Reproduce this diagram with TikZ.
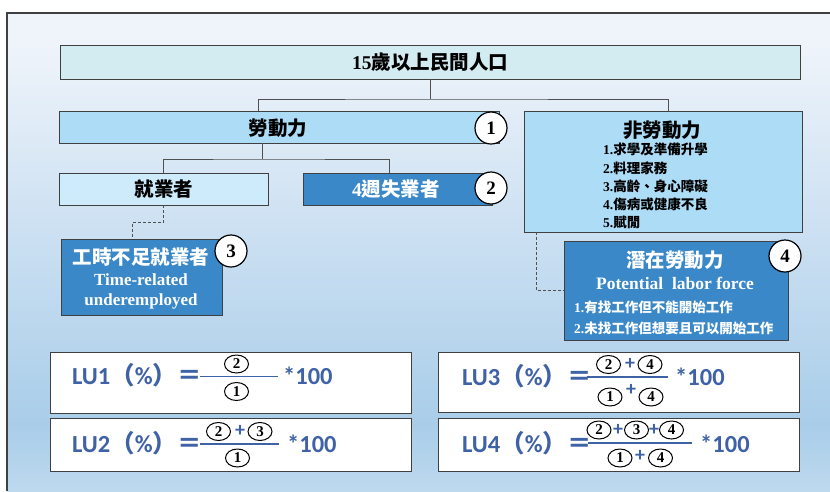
\documentclass[tikz,border=0pt]{standalone}
\usepackage{fontspec}
\setmainfont{Liberation Serif}
\newfontfamily\cjk{Noto Sans CJK TC}
\newfontfamily\calfont{Carlito}
\usetikzlibrary{shapes.geometric}
\definecolor{bgtop}{HTML}{EFF4FA}
\definecolor{bgmid}{HTML}{C8DEF1}
\definecolor{bglow}{HTML}{A9CDE9}
\definecolor{bgbot}{HTML}{BDD9EE}
\definecolor{topfill}{HTML}{D3ECF1}
\definecolor{labfill}{HTML}{ADDCF6}
\definecolor{empfill}{HTML}{CDEBFA}
\definecolor{bluefill}{HTML}{3A88C8}
\definecolor{boxline}{HTML}{404040}
\definecolor{linegray}{HTML}{505050}
\definecolor{fblue}{HTML}{3F62A6}
\pgfdeclareverticalshading{bgshade}{100bp}{color(0bp)=(bgbot); color(25bp)=(bgbot); color(32bp)=(bglow); color(50bp)=(bgmid); color(72bp)=(bgtop); color(100bp)=(bgtop)}
\begin{document}
\begin{tikzpicture}[x=1pt,y=-1pt,
  conn/.style={draw=linegray, line width=0.9pt},
  dconn/.style={draw=linegray, line width=0.9pt, dash pattern=on 3pt off 2pt},
  box/.style={draw=boxline, line width=0.9pt, rectangle, inner sep=0pt},
  num/.style={circle, draw=black, line width=1.2pt, fill=white, minimum size=32pt, inner sep=0pt, font=\bfseries\fontsize{19}{19}\selectfont},
  snum/.style={ellipse, draw=black, line width=1pt, fill=white, minimum width=24pt, minimum height=18pt, inner sep=0pt, font=\bfseries\fontsize{15}{15}\selectfont},
  ttl/.style={inner sep=0pt, font=\bfseries\fontsize{19.5}{19.5}\selectfont},
  lst/.style={inner sep=0pt, anchor=west, font=\bfseries\fontsize{13.5}{13.5}\selectfont},
  eng/.style={inner sep=0pt, font=\bfseries\fontsize{17}{17}\selectfont},
  ftxt/.style={text=fblue, inner sep=0pt, anchor=base west, font=\calfont\bfseries\fontsize{24.5}{24.5}\selectfont},
  plus/.style={text=fblue, inner sep=0pt, font=\calfont\bfseries\fontsize{20}{20}\selectfont},
  fline/.style={draw=fblue, line width=1.5pt},
  fbox/.style={draw=boxline, line width=1pt, fill=white, rectangle, inner sep=0pt, minimum width=361pt}
]
\useasboundingbox (0,0) rectangle (830,491);
\fill[white] (0,0) rectangle (830,491);
\shade[shading=bgshade] (7,13) rectangle (830,491);
\draw[line width=1.5pt, draw=boxline] (7,491) -- (7,13) -- (830,13);

% boxes
\node[box, fill=topfill, minimum width=740pt, minimum height=34pt] (top) at (430,62) {};
\node[box, fill=labfill, minimum width=440pt, minimum height=32pt] (lab) at (279,127) {};
\node[box, fill=labfill, minimum width=278pt, minimum height=121pt] (nlab) at (663,171.5) {};
\node[box, fill=empfill, minimum width=209pt, minimum height=32pt] (emp) at (163.5,189) {};
\node[box, fill=bluefill, minimum width=189pt, minimum height=32pt] (unemp) at (397.5,189) {};
\node[box, fill=bluefill, minimum width=161pt, minimum height=76pt] (under) at (141.5,277) {};
\node[box, fill=bluefill, minimum width=224pt, minimum height=99pt] (pot) at (676,290.5) {};

% connectors
\coordinate (h1) at (430,99);
\coordinate (h2) at (262,159);
\draw[conn] (top.south) -- (h1);
\draw[conn] (258,0 |- lab.north) |- (h1) -| (668,0 |- nlab.north);
\draw[conn] (262,0 |- lab.south) -- (h2);
\draw[conn] (emp.north) |- (h2) -| (389,0 |- unemp.north);
\draw[dconn] (emp.south) -- ++(0,17) -| (132,0 |- under.north);
\draw[dconn] (536,0 |- nlab.south) |- (pot.west);

% texts
\node[ttl] (toptxt) at (430,62) {15{\cjk 歲以上民間人口}};
\node[ttl] (labtxt) at (278,128) {\cjk 勞動力};
\node[ttl] (emptxt) at (164,189) {\cjk 就業者};
\node[ttl, text=white] (unemptxt) at (396,189) {4{\cjk 週失業者}};
\node[ttl] (nlabtxt) at (662,130) {\cjk 非勞動力};
\node[lst] (nl1) at (603,149) {1.{\cjk 求學及準備升學}};
\node[lst] (nl2) at (603,168) {2.{\cjk 料理家務}};
\node[lst] (nl3) at (603,186) {3.{\cjk 高齡、身心障礙}};
\node[lst] (nl4) at (603,204) {4.{\cjk 傷病或健康不良}};
\node[lst] (nl5) at (603,222) {5.{\cjk 賦閒}};
\node[ttl, text=white] (undertxt) at (141,257) {\cjk 工時不足就業者};
\node[eng, text=white] (underen1) at (141,280) {Time-related};
\node[eng, text=white] (underen2) at (141,301) {underemployed};
\node[ttl, text=white] (pottxt) at (675,260) {\cjk 潛在勞動力};
\node[eng, text=white, font=\bfseries\fontsize{17.5}{17.5}\selectfont] (poten) at (675,283) {Potential\ \ labor force};
\node[lst, text=white] (pl1) at (574,307) {1.{\cjk 有找工作但不能開始工作}};
\node[lst, text=white] (pl2) at (574,328) {2.{\cjk 未找工作但想要且可以開始工作}};

% numbered circles
\node[num] (c1) at (491,128) {1};
\node[num] (c2) at (491,188) {2};
\node[num] (c3) at (231,251) {3};
\node[num] (c4) at (785,256) {4};

% formula boxes
\node[fbox, minimum height=61pt] (f1) at (230.5,382.5) {};
\node[fbox, minimum height=53pt] (f2) at (230.5,444.5) {};
\node[fbox, minimum height=60pt] (f3) at (618.5,382) {};
\node[fbox, minimum height=53pt] (f4) at (618.5,444.5) {};

% LU1
\node[ftxt] (l1) at (72,384) {LU1{\cjk （}\%{\cjk ）＝}};
\draw[fline] (200,376.5) -- (278,376.5);
\node[snum] (a1n2) at (236.5,364) {2};
\node[snum] (a1d1) at (236.5,391.5) {1};
\node[ftxt] (m1) at (283,384) {*100};

% LU2
\node[ftxt] (l2) at (72,452) {LU2{\cjk （}\%{\cjk ）＝}};
\draw[fline] (200,444) -- (279,444);
\node[snum] (a2n2) at (218.5,431.5) {2};
\node[plus] (a2p) at (240,431) {+};
\node[snum] (a2n3) at (260,431.5) {3};
\node[snum] (a2d1) at (237.5,458) {1};
\node[ftxt] (m2) at (287,452) {*100};

% LU3
\node[ftxt] (l3) at (462,385) {LU3{\cjk （}\%{\cjk ）＝}};
\draw[fline] (587,377) -- (668,377);
\node[snum] (a3n2) at (608.5,364.5) {2};
\node[plus] (a3p1) at (630,364) {+};
\node[snum] (a3n4) at (650,364.5) {4};
\node[snum] (a3d1) at (610,397) {1};
\node[plus] (a3p2) at (631,390) {+};
\node[snum] (a3d4) at (651,397) {4};
\node[ftxt] (m3) at (675,385) {*100};

% LU4
\node[ftxt] (l4) at (462,452) {LU4{\cjk （}\%{\cjk ）＝}};
\draw[fline] (588,443) -- (692,443);
\node[snum] (a4n2) at (599,430) {2};
\node[plus] (a4p1) at (618,430) {+};
\node[snum] (a4n3) at (636.5,430) {3};
\node[plus] (a4p2) at (654,430) {+};
\node[snum] (a4n4) at (671.5,430) {4};
\node[snum] (a4d1) at (620,458) {1};
\node[plus] (a4p3) at (640,456) {+};
\node[snum] (a4d4) at (660.5,458) {4};
\node[ftxt] (m4) at (700,452) {*100};
\end{tikzpicture}
\end{document}
